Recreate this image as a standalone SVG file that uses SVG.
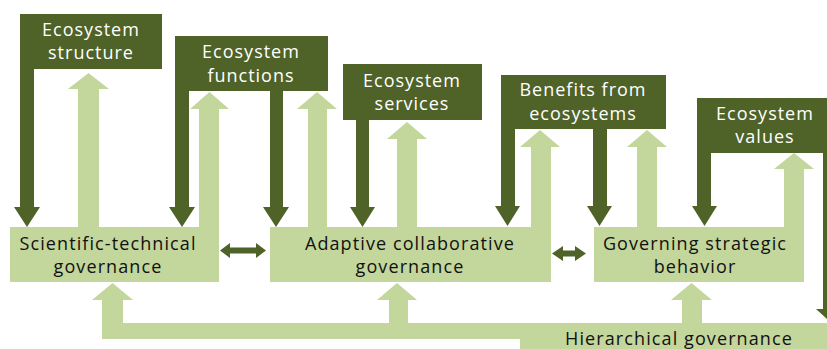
<svg xmlns="http://www.w3.org/2000/svg" width="827" height="349" viewBox="0 0 827 349">
<style>
.dk{fill:#4F6228}
.lt{fill:#C3D69B}
.wt{font-family:"Open Sans","Liberation Sans",sans-serif;font-size:18px;fill:#FFFFFF;text-anchor:middle;letter-spacing:1px}
.bt{font-family:"Open Sans","Liberation Sans",sans-serif;font-size:18px;fill:#111111;text-anchor:middle;letter-spacing:1.1px}
</style>
<rect width="827" height="349" fill="#FFFFFF"/>
<g id="connectors">
  <!-- light up arrows from governance boxes to ecosystem boxes -->
  <polygon class="lt" points="78,227 78,89 68,89 88.5,73 109,89 99,89 99,227"/>
  <polygon class="lt" points="199,227 199,109 190,109 209.5,92 229,109 219,109 219,227"/>
  <polygon class="lt" points="308,227 308,109 297,109 317,92 337,109 327,109 327,227"/>
  <polygon class="lt" points="397,227 397,139 387,139 407,122 427,139 417,139 417,227"/>
  <polygon class="lt" points="531,227 531,147 520,147 540,130 560,147 551,147 551,227"/>
  <polygon class="lt" points="637,227 637,147 627,147 647,130 667,147 657,147 657,227"/>
  <polygon class="lt" points="784,227 784,169 774,169 794,153 814,169 804,169 804,227"/>
  <!-- hierarchical bar and up arrows -->
  <polygon class="lt" points="102,339 102,300 92,300 112.5,283 133,300 123,300 123,323 389,323 389,300 377,300 397,283 417,300 408,300 408,323 682,323 682,300 671,300 691.5,283 712,300 702,300 702,323 827,323 827,339"/>
  <!-- dark down arrows from ecosystem boxes -->
  <polygon class="dk" points="20,69 34,69 34,207 40,207 27,227 14,207 20,207"/>
  <polygon class="dk" points="175,91 189,91 189,207 195,207 182,227 169,207 175,207"/>
  <polygon class="dk" points="270,91 283,91 283,207 289,207 276,227 263,207 270,207"/>
  <polygon class="dk" points="356,120 369,120 369,207 375,207 362.5,227 350,207 356,207"/>
  <polygon class="dk" points="501,129 515,129 515,206 520,206 507.5,226 495,206 501,206"/>
  <polygon class="dk" points="593,129 607,129 607,206 612,206 599.5,226 587,206 593,206"/>
  <polygon class="dk" points="697,153 711,153 711,206 717,206 704.5,226 692,206 697,206"/>
  <polygon class="dk" points="823,153 831,153 831,309 838,309 827,319 816,309 823,309"/>
  <!-- double arrows -->
  <polygon class="dk" points="220,250.5 230,243 230,247.5 256,247.5 256,243 266,250.5 256,258 256,253.5 230,253.5 230,258"/>
  <polygon class="dk" points="552,253.5 563,246 563,250.5 575,250.5 575,246 586,253.5 575,261 575,256.5 563,256.5 563,261"/>
</g>
<g id="ecosystem-structure">
  <rect class="dk" x="20" y="14" width="142" height="55"/>
  <text class="wt" x="91" y="36">Ecosystem</text>
  <text class="wt" x="91" y="59">structure</text>
</g>
<g id="ecosystem-functions">
  <rect class="dk" x="175" y="36" width="153" height="55"/>
  <text class="wt" x="251" y="58">Ecosystem</text>
  <text class="wt" x="251" y="82">functions</text>
</g>
<g id="ecosystem-services">
  <rect class="dk" x="343" y="64" width="139" height="56"/>
  <text class="wt" x="412" y="87">Ecosystem</text>
  <text class="wt" x="412" y="110">services</text>
</g>
<g id="benefits-from-ecosystems">
  <rect class="dk" x="501" y="75" width="165" height="54"/>
  <text class="wt" x="583" y="96">Benefits from</text>
  <text class="wt" x="583" y="120">ecosystems</text>
</g>
<g id="ecosystem-values">
  <rect class="dk" x="697" y="98" width="134" height="55"/>
  <text class="wt" x="765" y="120">Ecosystem</text>
  <text class="wt" x="765" y="143">values</text>
</g>
<g id="scientific-technical-governance">
  <rect class="lt" x="10" y="227" width="209" height="55"/>
  <text class="bt" x="108" y="250">Scientific-technical</text>
  <text class="bt" x="108" y="273">governance</text>
</g>
<g id="adaptive-collaborative-governance">
  <rect class="lt" x="270" y="227" width="281" height="55"/>
  <text class="bt" x="410" y="250">Adaptive collaborative</text>
  <text class="bt" x="410" y="273">governance</text>
</g>
<g id="governing-strategic-behavior">
  <rect class="lt" x="594" y="227" width="210" height="55"/>
  <text class="bt" x="695" y="250">Governing strategic</text>
  <text class="bt" x="695" y="273">behavior</text>
</g>
<g id="hierarchical-governance">
  <rect class="lt" x="520" y="323" width="307" height="26"/>
  <text class="bt" x="679" y="345">Hierarchical governance</text>
</g>
</svg>
